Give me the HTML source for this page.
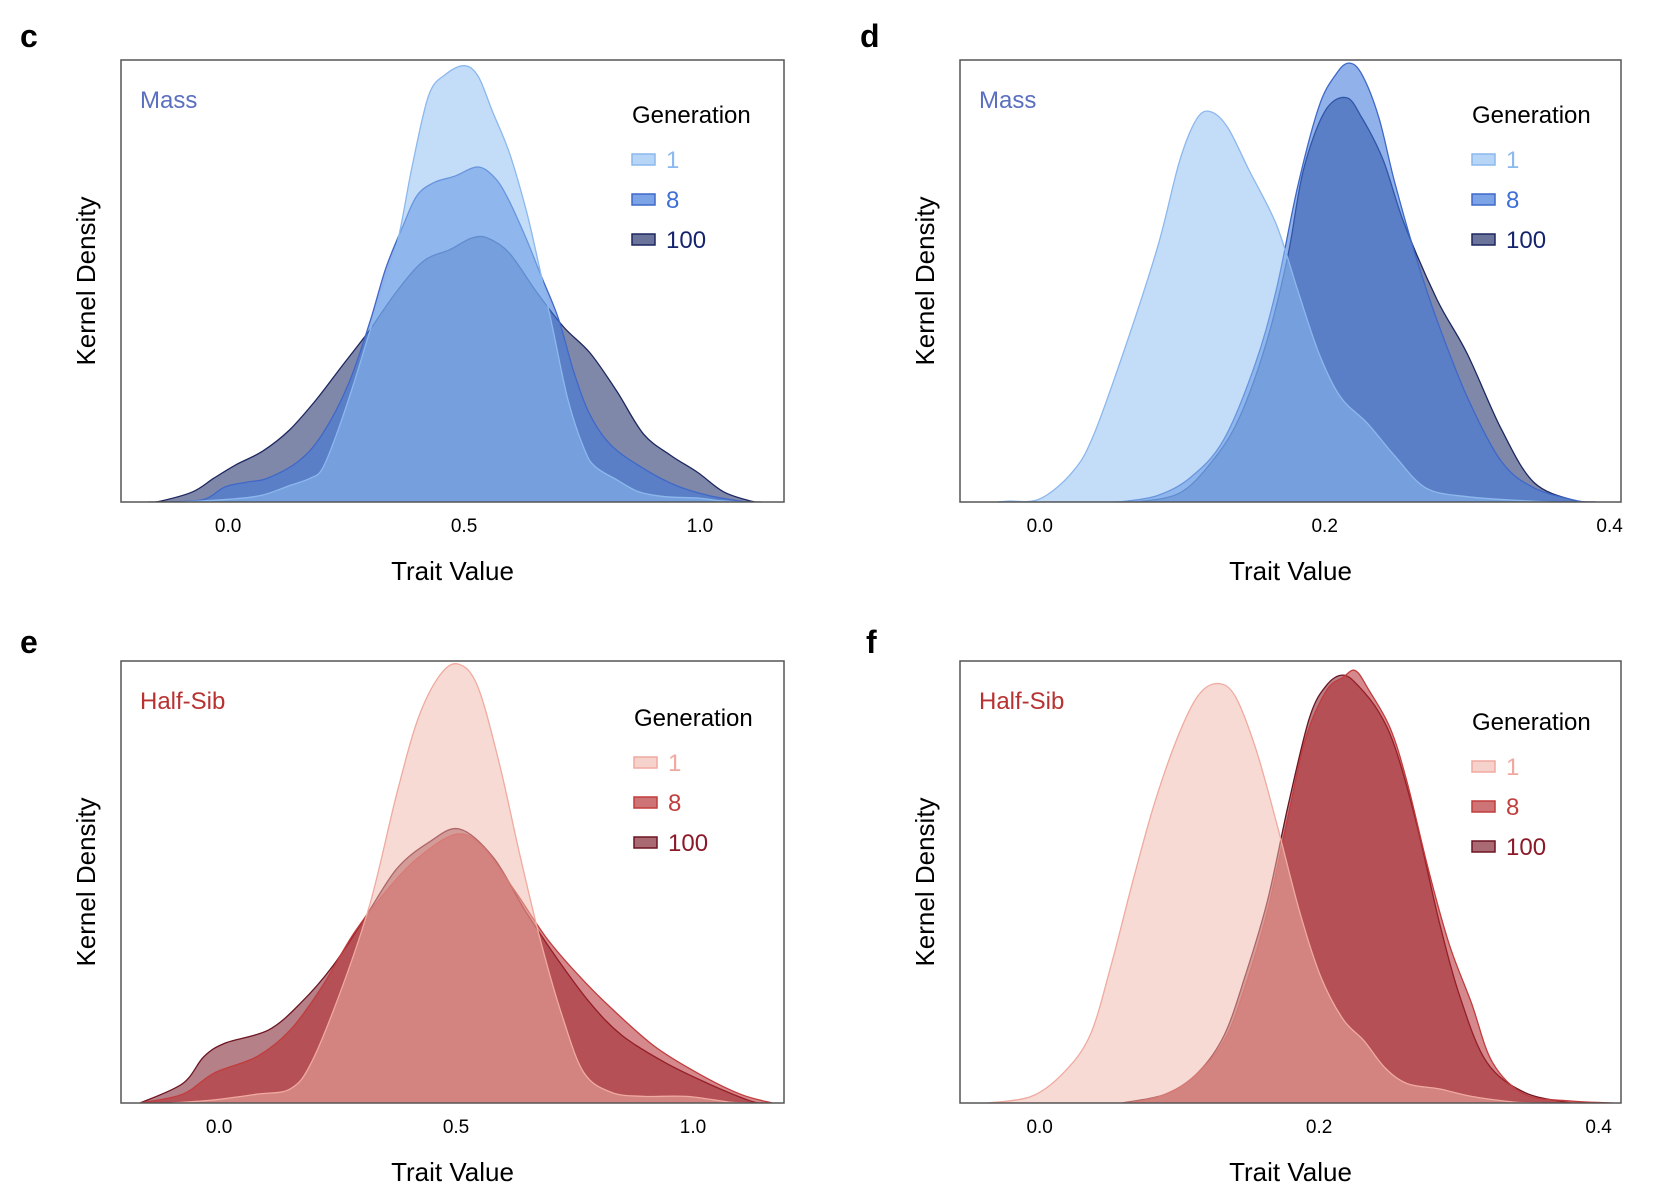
<!DOCTYPE html>
<html><head><meta charset="utf-8"><style>
html,body{margin:0;padding:0;background:#fff;}
svg{display:block;font-family:"Liberation Sans",Arial,sans-serif;}
</style></head><body>
<svg id="fig" width="1680" height="1204" viewBox="0 0 1680 1204"></svg>
<script>
// ---------- data (trait value, relative density) ----------
const cG1x=[-0.1,0,0.07,0.13,0.175,0.2,0.23,0.266,0.31,0.357,0.39,0.425,0.46,0.5,0.53,0.56,0.596,0.63,0.653,0.687,0.72,0.755,0.778,0.824,0.87,0.926,0.995,1.04,1.085];
const cG1y=[0,0.006,0.015,0.037,0.054,0.076,0.154,0.267,0.42,0.58,0.76,0.92,0.967,0.987,0.963,0.884,0.79,0.667,0.563,0.397,0.232,0.119,0.08,0.05,0.023,0.012,0.009,0.003,0];
const cG8x=[-0.12,-0.05,-0.007,0.04,0.084,0.15,0.2,0.255,0.3,0.334,0.37,0.4,0.437,0.48,0.528,0.562,0.59,0.63,0.664,0.7,0.733,0.767,0.812,0.88,0.95,1.017,1.085,1.11];
const cG8y=[0,0.006,0.034,0.045,0.054,0.093,0.154,0.267,0.406,0.528,0.623,0.693,0.723,0.737,0.758,0.737,0.693,0.6,0.51,0.415,0.293,0.197,0.128,0.076,0.037,0.015,0.002,0];
const cG100x=[-0.17,-0.143,-0.075,-0.03,0.016,0.073,0.13,0.187,0.243,0.3,0.357,0.414,0.47,0.516,0.55,0.596,0.653,0.71,0.767,0.824,0.88,0.937,0.995,1.05,1.108,1.13];
const cG100y=[0,0.002,0.023,0.054,0.084,0.115,0.163,0.232,0.31,0.389,0.476,0.545,0.571,0.597,0.597,0.563,0.476,0.397,0.337,0.25,0.154,0.106,0.067,0.023,0.002,0];

const dG1x=[-0.03,-0.022,0,0.023,0.038,0.061,0.083,0.098,0.11,0.12,0.132,0.147,0.166,0.181,0.196,0.211,0.23,0.249,0.271,0.3,0.339,0.36];
const dG1y=[0,0.002,0.007,0.068,0.153,0.36,0.58,0.77,0.866,0.883,0.847,0.75,0.628,0.48,0.336,0.238,0.178,0.105,0.032,0.012,0.003,0];
const dG8x=[0.05,0.061,0.083,0.106,0.129,0.151,0.166,0.181,0.196,0.208,0.217,0.226,0.238,0.249,0.264,0.279,0.3,0.324,0.347,0.377,0.39];
const dG8y=[0,0.002,0.015,0.056,0.14,0.31,0.48,0.713,0.895,0.968,0.993,0.968,0.87,0.725,0.555,0.41,0.238,0.092,0.032,0.003,0];
const dG100x=[0.068,0.098,0.121,0.14,0.159,0.174,0.185,0.2,0.215,0.226,0.241,0.256,0.279,0.3,0.324,0.347,0.377,0.39];
const dG100y=[0,0.02,0.092,0.19,0.36,0.555,0.75,0.883,0.915,0.87,0.774,0.628,0.457,0.336,0.165,0.044,0.002,0];

const eG1x=[-0.1,-0.01,0.08,0.15,0.195,0.26,0.32,0.375,0.42,0.466,0.505,0.545,0.59,0.636,0.68,0.726,0.77,0.828,0.896,0.986,1.077,1.12];
const eG1y=[0,0.007,0.02,0.032,0.092,0.263,0.457,0.7,0.87,0.968,0.993,0.944,0.774,0.555,0.36,0.19,0.068,0.024,0.015,0.015,0.002,0];
const eG8x=[-0.167,-0.077,-0.01,0.08,0.15,0.217,0.285,0.353,0.42,0.5,0.556,0.624,0.692,0.76,0.828,0.918,1.009,1.1,1.167];
const eG8y=[0,0.02,0.068,0.105,0.165,0.263,0.385,0.48,0.555,0.608,0.58,0.48,0.372,0.287,0.214,0.129,0.068,0.02,0];
const eG100x=[-0.167,-0.077,-0.032,0.014,0.104,0.172,0.24,0.308,0.375,0.443,0.507,0.579,0.647,0.715,0.783,0.85,0.94,1.032,1.12,1.15];
const eG100y=[0,0.044,0.105,0.136,0.165,0.226,0.31,0.42,0.53,0.59,0.62,0.555,0.433,0.324,0.226,0.153,0.092,0.044,0.005,0];

const fG1x=[-0.037,-0.006,0.017,0.036,0.051,0.067,0.082,0.098,0.113,0.127,0.14,0.155,0.17,0.186,0.201,0.217,0.232,0.247,0.263,0.286,0.309,0.34,0.36];
const fG1y=[0,0.015,0.068,0.153,0.31,0.506,0.676,0.822,0.92,0.949,0.92,0.798,0.628,0.433,0.287,0.19,0.141,0.08,0.044,0.032,0.015,0.002,0];
const fG8x=[0.063,0.086,0.109,0.132,0.147,0.163,0.178,0.19,0.205,0.217,0.226,0.236,0.251,0.263,0.278,0.293,0.309,0.324,0.347,0.378,0.41];
const fG8y=[0,0.015,0.056,0.141,0.263,0.433,0.652,0.822,0.932,0.963,0.978,0.932,0.847,0.725,0.53,0.36,0.226,0.092,0.02,0.005,0];
const fG100x=[0.059,0.09,0.113,0.132,0.147,0.163,0.178,0.193,0.205,0.217,0.228,0.243,0.255,0.27,0.286,0.301,0.32,0.347,0.38];
const fG100y=[0,0.02,0.068,0.153,0.287,0.457,0.676,0.871,0.944,0.968,0.944,0.883,0.798,0.628,0.409,0.238,0.092,0.024,0];

const ticksWide=[0.0,0.5,1.0];
const ticksNarrow=[0.0,0.2,0.4];
const tickLabelsWide=["0.0","0.5","1.0"];
const tickLabelsNarrow=["0.0","0.2","0.4"];
const genLabels=["1","8","100"];

// ---------- drawing ----------
const NS="http://www.w3.org/2000/svg";
const svg=document.getElementById('fig');
function mk(tag,attrs,parent){const e=document.createElementNS(NS,tag);for(const k in attrs)e.setAttribute(k,attrs[k]);(parent||svg).appendChild(e);return e;}

const blue={fills:["rgb(141,189,242)","rgb(63,120,219)","rgb(43,57,113)"],strokes:["#8cb8ee","#3f68c8","#1c2760"],op:[0.53,0.58,0.6],text:["#8ab8f0","#3d6fd6","#14236e"],title:"Mass",tcol:"#5b6fbf"};
const red={fills:["rgb(239,183,171)","rgb(180,40,45)","rgb(133,43,57)"],strokes:["#f0aaa0","#c23c3c","#6e1422"],op:[0.51,0.55,0.6],text:["#f0a8a0","#c04040","#8a1a28"],title:"Half-Sib",tcol:"#b83232"};

function smoothPath(pts){
  let d="M"+pts[0][0].toFixed(1)+","+pts[0][1].toFixed(1);
  for(let i=0;i<pts.length-1;i++){
    const p0=pts[Math.max(0,i-1)],p1=pts[i],p2=pts[i+1],p3=pts[Math.min(pts.length-1,i+2)];
    const c1x=p1[0]+(p2[0]-p0[0])/6,c1y=p1[1]+(p2[1]-p0[1])/6;
    const c2x=p2[0]-(p3[0]-p1[0])/6,c2y=p2[1]-(p3[1]-p1[1])/6;
    d+=" C"+c1x.toFixed(1)+","+c1y.toFixed(1)+" "+c2x.toFixed(1)+","+c2y.toFixed(1)+" "+p2[0].toFixed(1)+","+p2[1].toFixed(1);
  }
  return d;
}

function panel(opt){
  const g=mk('g',{});
  
  
  const {x0,x1,y0,y1,d0,d1}=opt;
  const sx=v=>x0+(v-d0)/(d1-d0)*(x1-x0);
  const sy=v=>y1-v*(y1-y0);
  const lt=mk('text',{x:opt.lx,y:opt.ly,'font-size':32,'font-weight':'bold',fill:'#000'},g);
  lt.textContent=opt.letter;
  
  
  const clipId='clip'+opt.letter;
  const cp=mk('clipPath',{id:clipId},g);
  mk('rect',{x:x0,y:y0,width:x1-x0,height:y1-y0},cp);
  const sg=mk('g',{'clip-path':'url(#'+clipId+')'},g);
  for(let i=opt.series.length-1;i>=0;i--){
    const s=opt.series[i];
    const pts=s[0].map((v,j)=>[sx(v),sy(s[1][j])]);
    let d=smoothPath(pts);
    d+=" L"+sx(s[0][s[0].length-1]).toFixed(1)+","+y1+" L"+sx(s[0][0]).toFixed(1)+","+y1+" Z";
    const p=mk('path',{d:d,fill:opt.pal.fills[i],'fill-opacity':opt.pal.op[i],stroke:opt.pal.strokes[i],'stroke-width':1.3},sg);
    
    
  }
  const fr=mk('rect',{x:x0,y:y0,width:x1-x0,height:y1-y0,fill:'none',stroke:'#555','stroke-width':1.5},g);
  
  
  opt.ticks.forEach((t,i)=>{
    const tx=mk('text',{x:sx(t),y:y1+30,'font-size':19,'text-anchor':'middle',fill:'#000'},g);
    tx.textContent=opt.tickLabels[i];
    
    
  });
  const xt=mk('text',{x:(x0+x1)/2,y:y1+78,'font-size':26,'text-anchor':'middle',fill:'#000'},g);
  xt.textContent="Trait Value";
  
  
  const cy=(y0+y1)/2;
  const yt=mk('text',{x:0,y:0,'font-size':26,'text-anchor':'middle',fill:'#000',transform:'translate('+(x0-26)+','+cy+') rotate(-90)'},g);
  yt.textContent="Kernel Density";
  
  
  const tt=mk('text',{x:x0+19,y:y0+48,'font-size':24,fill:opt.pal.tcol},g);
  tt.textContent=opt.pal.title;
  
  
  const lg=mk('g',{},g);
  
  
  const gt=mk('text',{x:opt.legX,y:opt.legY+8,'font-size':24,fill:'#000'},lg);
  gt.textContent="Generation";
  genLabels.forEach((lab,i)=>{
    const ry=opt.legY+44+i*40;
    const r=mk('rect',{x:opt.legX,y:ry-5,width:23,height:11,fill:opt.pal.fills[i],'fill-opacity':opt.pal.op[i]+0.1,stroke:opt.pal.strokes[i],'stroke-width':1.5},lg);
    
    
    const t=mk('text',{x:opt.legX+34,y:ry+9,'font-size':24,fill:opt.pal.text[i]},lg);
    t.textContent=lab;
    
    
  });
}

panel({letter:'c',lx:20,ly:47,x0:121,x1:784,y0:60,y1:502,d0:-0.227,d1:1.178,ticks:ticksWide,tickLabels:tickLabelsWide,legX:632,legY:115,pal:blue,
  series:[[cG1x,cG1y],[cG8x,cG8y],[cG100x,cG100y]]});
panel({letter:'d',lx:860,ly:47,x0:960,x1:1621,y0:60,y1:502,d0:-0.056,d1:0.408,ticks:ticksNarrow,tickLabels:tickLabelsNarrow,legX:1472,legY:115,pal:blue,
  series:[[dG1x,dG1y],[dG8x,dG8y],[dG100x,dG100y]]});
panel({letter:'e',lx:20,ly:653,x0:121,x1:784,y0:661,y1:1103,d0:-0.207,d1:1.192,ticks:ticksWide,tickLabels:tickLabelsWide,legX:634,legY:718,pal:red,
  series:[[eG1x,eG1y],[eG8x,eG8y],[eG100x,eG100y]]});
panel({letter:'f',lx:866,ly:653,x0:960,x1:1621,y0:661,y1:1103,d0:-0.057,d1:0.416,ticks:ticksNarrow,tickLabels:tickLabelsNarrow,legX:1472,legY:722,pal:red,
  series:[[fG1x,fG1y],[fG8x,fG8y],[fG100x,fG100y]]});
</script>
</body></html>
